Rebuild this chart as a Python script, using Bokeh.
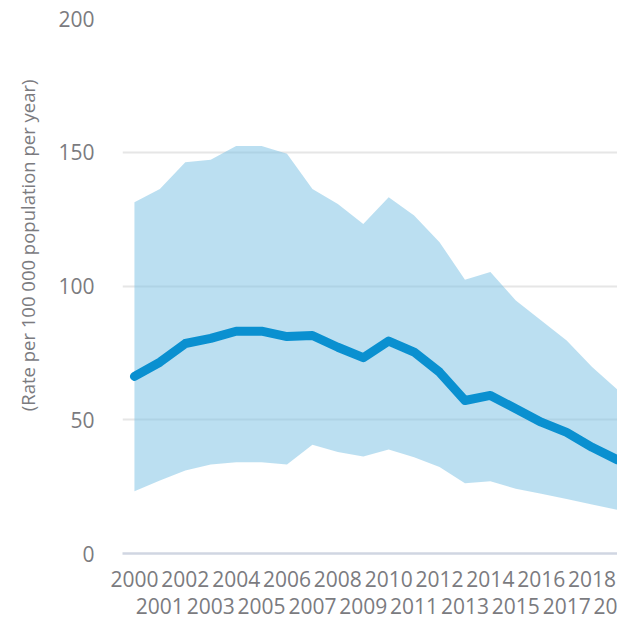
from bokeh.plotting import figure
from bokeh.models import ColumnDataSource, FixedTicker, LinearAxis, Range1d, Title
from bokeh.embed import file_html
from bokeh.resources import INLINE

years = list(range(2000, 2020))
rate = [66.2, 71.5, 78.5, 80.4, 83.1, 83.1, 81.1, 81.5, 77.1, 73.2,
        79.4, 75.3, 67.8, 57.2, 59.1, 54.1, 49.1, 45.3, 39.7, 35.0]
upper = [131.3, 136.3, 146.3, 147.2, 152.3, 152.3, 149.4, 136.3, 130.7, 123.2,
         133.2, 126.4, 116.4, 102.3, 105.2, 94.6, 87.1, 79.6, 69.7, 61.2]
lower = [23.3, 27.3, 31.0, 33.3, 34.1, 34.1, 33.3, 40.7, 37.9, 36.3,
         38.9, 36.0, 32.3, 26.3, 27.0, 24.2, 22.3, 20.4, 18.3, 16.3]
y_ticks = [0, 50, 100, 150, 200]
even_years = [y for y in years if y % 2 == 0]
odd_years = [y for y in years if y % 2 == 1]
# the last tick label is cut to "20" in the original chart
odd_labels = {2019: "20"}
y_title = "(Rate per 100 000 population per year)"

src = ColumnDataSource(dict(year=years, rate=rate, upper=upper, lower=lower))

FONT = "Open Sans"
GREY = "#7b7b7f"

p = figure(width=617, height=622, output_backend="svg", toolbar_location=None,
           x_range=Range1d(1999.53, 2019.0), y_range=Range1d(0, 200),
           min_border_left=121, min_border_right=0, min_border_top=18,
           min_border_bottom=69)
p.outline_line_color = None
p.background_fill_color = "white"
p.border_fill_color = "white"

p.varea(x="year", y1="lower", y2="upper", source=src,
        fill_color="#77bfe3", fill_alpha=0.5)
p.line(x="year", y="rate", source=src, line_color="#0a90d0", line_width=9,
       line_cap="round", line_join="round")

# y axis
yax = p.yaxis[0]
yax.ticker = FixedTicker(ticks=y_ticks)
yax.axis_line_color = None
yax.major_tick_line_color = None
yax.minor_tick_line_color = None
yax.major_tick_out = 0
yax.major_label_standoff = 28
yax.major_label_text_font = FONT
yax.major_label_text_font_size = "21px"
yax.major_label_text_color = GREY

p.ygrid.ticker = FixedTicker(ticks=y_ticks)
p.ygrid.grid_line_color = "#e6e6e6"
p.ygrid.grid_line_width = 2
p.xgrid.grid_line_color = None

# x axes: two rows of labels
xax = p.xaxis[0]
xax.ticker = FixedTicker(ticks=even_years)
xax.axis_line_color = "#d0d6e2"
xax.axis_line_width = 2.5
xax.major_tick_line_color = None
xax.minor_tick_line_color = None
xax.major_tick_out = 0
xax.major_tick_in = 0
xax.major_label_standoff = 17
xax.major_label_text_font = FONT
xax.major_label_text_font_size = "21px"
xax.major_label_text_color = GREY

xax2 = LinearAxis(ticker=FixedTicker(ticks=odd_years))
xax2.major_label_overrides = odd_labels
xax2.axis_line_color = None
xax2.major_tick_line_color = None
xax2.minor_tick_line_color = None
xax2.major_tick_out = 0
xax2.major_tick_in = 0
xax2.major_label_standoff = 8
xax2.major_label_text_font = FONT
xax2.major_label_text_font_size = "21px"
xax2.major_label_text_color = GREY
p.add_layout(xax2, "below")

t = Title(text=y_title, align="right", offset=61, standoff=28,
          vertical_align="top", text_font=FONT, text_font_size="18.5px",
          text_font_style="normal", text_color=GREY)
p.add_layout(t, "left")

open("out.html", "w").write(file_html(p, INLINE))
